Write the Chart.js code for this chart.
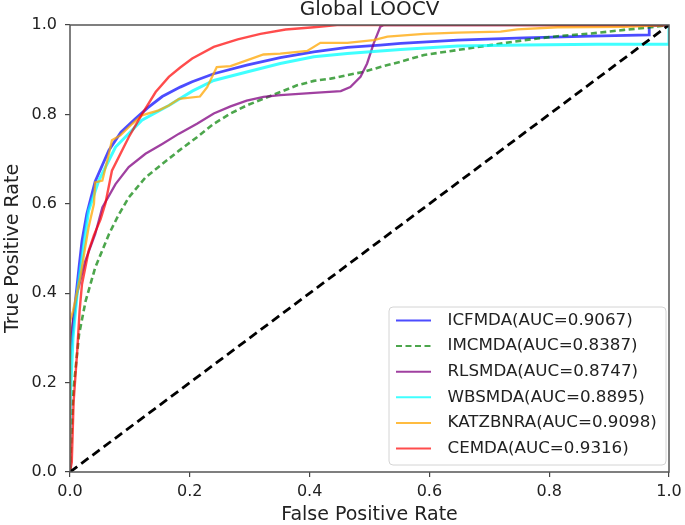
<!DOCTYPE html>
<html>
<head>
<meta charset="utf-8">
<title>Global LOOCV</title>
<script src="https://cdn.jsdelivr.net/npm/chart.js@4.4.1/dist/chart.umd.min.js"></script>
<style>
  html, body { margin: 0; padding: 0; background: #fff; }
  #wrap { width: 685px; height: 525px; }
</style>
</head>
<body>
<div id="wrap"><canvas id="roc" width="685" height="525"></canvas></div>
<script>
// ROC curves (false positive rate / true positive rate)
var icfmdaFpr = [0, 0, 0.003, 0.009, 0.015, 0.02, 0.028, 0.042, 0.065, 0.085, 0.109, 0.13, 0.154, 0.184, 0.204, 0.24, 0.295, 0.351, 0.407, 0.463, 0.518, 0.552, 0.647, 0.758, 0.87, 0.967, 0.967, 1.0];
var icfmdaTpr = [0, 0.25, 0.3, 0.382, 0.457, 0.517, 0.577, 0.65, 0.72, 0.76, 0.79, 0.815, 0.84, 0.861, 0.873, 0.891, 0.91, 0.927, 0.94, 0.95, 0.955, 0.959, 0.966, 0.971, 0.975, 0.978, 0.998, 1.0];

var imcmdaFpr = [0, 0.003, 0.006, 0.015, 0.026, 0.042, 0.065, 0.081, 0.098, 0.126, 0.154, 0.182, 0.212, 0.24, 0.268, 0.295, 0.323, 0.351, 0.379, 0.407, 0.435, 0.463, 0.49, 0.518, 0.552, 0.591, 0.647, 0.702, 0.758, 0.814, 0.87, 0.925, 0.97, 1.0];
var imcmdaTpr = [0, 0.1, 0.187, 0.307, 0.382, 0.457, 0.532, 0.575, 0.614, 0.659, 0.689, 0.719, 0.749, 0.779, 0.802, 0.82, 0.835, 0.85, 0.865, 0.875, 0.88, 0.888, 0.895, 0.906, 0.918, 0.933, 0.944, 0.955, 0.966, 0.975, 0.981, 0.989, 0.995, 1.0];

var rlsmdaFpr = [0, 0, 0.005, 0.012, 0.025, 0.042, 0.054, 0.076, 0.098, 0.126, 0.154, 0.182, 0.212, 0.24, 0.268, 0.295, 0.323, 0.351, 0.407, 0.452, 0.468, 0.485, 0.496, 0.507, 0.518, 0.524, 1.0];
var rlsmdaTpr = [0, 0.28, 0.34, 0.40, 0.47, 0.532, 0.592, 0.644, 0.682, 0.712, 0.734, 0.757, 0.779, 0.802, 0.818, 0.831, 0.839, 0.843, 0.848, 0.852, 0.861, 0.884, 0.914, 0.959, 0.996, 1.0, 1.0];

var wbsmdaFpr = [0, 0, 0.005, 0.012, 0.02, 0.031, 0.048, 0.076, 0.12, 0.165, 0.204, 0.24, 0.295, 0.351, 0.407, 0.463, 0.518, 0.552, 0.647, 0.758, 0.88, 1.0, 1.0];
var wbsmdaTpr = [0, 0.15, 0.3, 0.4, 0.48, 0.584, 0.652, 0.727, 0.787, 0.82, 0.852, 0.876, 0.895, 0.914, 0.929, 0.936, 0.942, 0.945, 0.953, 0.955, 0.957, 0.957, 1.0];

var katzFpr = [0, 0, 0.005, 0.017, 0.025, 0.031, 0.04, 0.042, 0.054, 0.065, 0.07, 0.084, 0.104, 0.12, 0.148, 0.165, 0.182, 0.217, 0.229, 0.245, 0.268, 0.295, 0.323, 0.351, 0.396, 0.418, 0.463, 0.507, 0.53, 0.591, 0.647, 0.719, 0.747, 0.814, 0.925, 1.0];
var katzTpr = [0, 0.337, 0.36, 0.434, 0.5, 0.547, 0.6, 0.648, 0.652, 0.712, 0.742, 0.753, 0.779, 0.798, 0.809, 0.82, 0.835, 0.84, 0.861, 0.906, 0.908, 0.921, 0.934, 0.936, 0.942, 0.96, 0.96, 0.966, 0.974, 0.98, 0.983, 0.985, 0.99, 0.995, 0.996, 1.0];

var cemdaFpr = [0, 0.003, 0.006, 0.012, 0.016, 0.02, 0.031, 0.04, 0.051, 0.059, 0.07, 0.098, 0.12, 0.143, 0.165, 0.184, 0.204, 0.24, 0.28, 0.318, 0.36, 0.407, 0.446, 1.0];
var cemdaTpr = [0, 0.022, 0.157, 0.27, 0.36, 0.42, 0.494, 0.53, 0.565, 0.6, 0.674, 0.749, 0.80, 0.85, 0.884, 0.905, 0.925, 0.951, 0.968, 0.98, 0.99, 0.995, 1.0, 1.0];

var chanceFpr = [0, 1];
var chanceTpr = [0, 1];

var methods = ['ICFMDA', 'IMCMDA', 'RLSMDA', 'WBSMDA', 'KATZBNRA', 'CEMDA'];
var aucValues = ['0.9067', '0.8387', '0.8747', '0.8895', '0.9098', '0.9316'];
var tickValues = [0, 0.2, 0.4, 0.6, 0.8, 1.0];
var tickLabels = ['0.0', '0.2', '0.4', '0.6', '0.8', '1.0'];
var chartTitle = 'Global LOOCV';

var fprs = [icfmdaFpr, imcmdaFpr, rlsmdaFpr, wbsmdaFpr, katzFpr, cemdaFpr];
var tprs = [icfmdaTpr, imcmdaTpr, rlsmdaTpr, wbsmdaTpr, katzTpr, cemdaTpr];

var lineColors = [
    'rgba(0, 0, 255, 0.7)',
    'rgba(0, 128, 0, 0.7)',
    'rgba(128, 0, 128, 0.75)',
    'rgba(0, 255, 255, 0.75)',
    'rgba(255, 165, 0, 0.75)',
    'rgba(255, 0, 0, 0.7)'
];
var lineWidths = [2.8, 2.6, 2.3, 3, 2.3, 2.4];
var lineDashes = [[], [6, 3.5], [], [], [], []];

var FONT = '"DejaVu Sans", "Liberation Sans", sans-serif';

function toPoints(xs, ys) {
    return xs.map(function(x, i) { return { x: x, y: ys[i] }; });
}

var datasets = methods.map(function(name, i) {
    return {
        label: name + '(AUC=' + aucValues[i] + ')',
        data: toPoints(fprs[i], tprs[i]),
        borderColor: lineColors[i],
        backgroundColor: lineColors[i],
        borderWidth: lineWidths[i],
        borderDash: lineDashes[i],
        pointRadius: 0,
        tension: 0,
        fill: false,
        order: 10 - i
    };
});
datasets.push({
    label: 'chance',
    data: toPoints(chanceFpr, chanceTpr),
    borderColor: '#000',
    borderWidth: 2.8,
    borderDash: [9, 5],
    pointRadius: 0,
    fill: false,
    order: 0
});

// box around the axes, like matplotlib spines
var framePlugin = {
    id: 'frame',
    afterDatasetsDraw: function(chart) {
        var a = chart.chartArea, c = chart.ctx;
        c.save();
        c.strokeStyle = '#555';
        c.lineWidth = 1.5;
        c.strokeRect(a.left, a.top, a.right - a.left, a.bottom - a.top);
        c.restore();
    }
};

// title centred over the axes and the legend box in the lower right
var overlayPlugin = {
    id: 'overlay',
    afterDraw: function(chart) {
        var a = chart.chartArea, c = chart.ctx;
        c.save();
        c.fillStyle = '#222';
        c.font = '20px ' + FONT;
        c.textAlign = 'center';
        c.textBaseline = 'middle';
        c.fillText(chartTitle, (a.left + a.right) / 2, 10);

        var w = 277, h = 158;
        var x = a.right - 3 - w, y = a.bottom - 7 - h, r = 4;
        c.beginPath();
        c.moveTo(x + r, y);
        c.lineTo(x + w - r, y);
        c.quadraticCurveTo(x + w, y, x + w, y + r);
        c.lineTo(x + w, y + h - r);
        c.quadraticCurveTo(x + w, y + h, x + w - r, y + h);
        c.lineTo(x + r, y + h);
        c.quadraticCurveTo(x, y + h, x, y + h - r);
        c.lineTo(x, y + r);
        c.quadraticCurveTo(x, y, x + r, y);
        c.closePath();
        c.fillStyle = 'rgba(255, 255, 255, 0.85)';
        c.fill();
        c.strokeStyle = '#d4d4d4';
        c.lineWidth = 1;
        c.stroke();

        c.font = '16.7px ' + FONT;
        c.textAlign = 'left';
        methods.forEach(function(name, i) {
            var ds = chart.data.datasets[i];
            var ry = y + 13.5 + i * 25.6;
            c.strokeStyle = ds.borderColor;
            c.lineWidth = 2;
            c.setLineDash(ds.borderDash);
            c.beginPath();
            c.moveTo(x + 7, ry);
            c.lineTo(x + 42, ry);
            c.stroke();
            c.setLineDash([]);
            c.fillStyle = '#222';
            c.fillText(ds.label, x + 58.5, ry);
        });
        c.restore();
    }
};

function axisOptions(isX) {
    return {
        type: 'linear',
        min: 0,
        max: 1,
        afterBuildTicks: function(s) {
            s.ticks = tickValues.map(function(v) { return { value: v }; });
        },
        afterFit: function(s) {
            if (isX) {
                s.height = 53;
                s.paddingLeft = 0;
                s.paddingRight = 0;
            } else {
                s.width = 70;
                s.paddingTop = 0;
                s.paddingBottom = 0;
            }
        },
        grid: { drawOnChartArea: false, drawTicks: true, tickLength: 5, color: '#444', lineWidth: 1.2 },
        border: { display: false },
        ticks: {
            autoSkip: false,
            maxRotation: 0,
            padding: isX ? 5 : 8,
            color: '#222',
            font: { family: FONT, size: 16 },
            callback: function(v, i) { return tickLabels[i]; }
        },
        title: {
            display: true,
            text: isX ? 'False Positive Rate' : 'True Positive Rate',
            color: '#222',
            font: { family: FONT, size: 19, lineHeight: 1 },
            padding: isX ? { top: 0, bottom: 0 } : { top: 4, bottom: 0 }
        }
    };
}

var ctx = document.getElementById('roc').getContext('2d');
var rocChart = new Chart(ctx, {
    type: 'line',
    data: { datasets: datasets },
    options: {
        responsive: false,
        animation: false,
        devicePixelRatio: 1,
        layout: { padding: { top: 25, right: 16, bottom: 0, left: 0 } },
        plugins: {
            legend: { display: false },
            title: { display: false },
            tooltip: { enabled: false }
        },
        scales: {
            x: axisOptions(true),
            y: axisOptions(false)
        }
    },
    plugins: [framePlugin, overlayPlugin]
});
</script>
</body>
</html>
